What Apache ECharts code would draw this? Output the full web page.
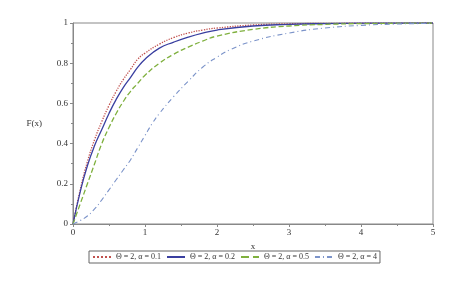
<!DOCTYPE html>
<html><head><meta charset="utf-8">
<script src="https://cdn.jsdelivr.net/npm/echarts@6/dist/echarts.min.js"></script>
<style>html,body{margin:0;padding:0;background:#fff}#c{width:465px;height:281px}</style>
</head><body><div id="c"></div>
<script>
const xs = [0,0.1,0.2,0.3,0.4,0.5,0.6,0.7,0.8,0.9,1.0,1.2,1.4,1.6,1.8,2.0,2.5,3.0,3.5,4.0,5.0];
const fA01 = [0,0.17,0.31,0.42,0.51,0.59,0.66,0.72,0.77,0.82,0.85,0.895,0.928,0.95,0.965,0.975,0.99,0.996,0.998,0.999,1];
const fA02 = [0,0.16,0.29,0.39,0.47,0.55,0.62,0.68,0.73,0.78,0.82,0.875,0.905,0.93,0.95,0.965,0.985,0.993,0.997,0.999,1];
const fA05 = [0,0.10,0.20,0.30,0.40,0.48,0.55,0.61,0.66,0.70,0.74,0.80,0.845,0.88,0.91,0.935,0.968,0.985,0.993,0.997,1];
const xs4 = [0,0.1,0.2,0.3,0.4,0.5,0.6,0.7,0.8,0.9,1.0,1.1,1.2,1.4,1.6,1.8,2.0,2.2,2.5,3.0,3.5,4.0,4.5,5.0];
const fA4 = [0,0.017,0.04,0.075,0.12,0.17,0.22,0.27,0.32,0.38,0.44,0.50,0.55,0.635,0.71,0.78,0.83,0.87,0.91,0.95,0.975,0.988,0.995,0.998];
const names = ['Θ = 2, α = 0.1','Θ = 2, α = 0.2','Θ = 2, α = 0.5','Θ = 2, α = 4'];
const pair = (a,b)=>a.map((v,i)=>[v,b[i]]);
const font = 'Liberation Serif';
const mk = (name, data, color, type, width) => ({
  name, type:'line', data, smooth:true, symbol:'none',
  lineStyle:{color, type, width}, itemStyle:{color}
});
const chart = echarts.init(document.getElementById('c'));
chart.setOption({
  animation:false,
  grid:{left:73,right:32,top:23,bottom:57,show:true,borderColor:'#888',borderWidth:1},
  xAxis:{type:'value',min:0,max:5,interval:1,name:'x',nameLocation:'middle',nameGap:18,
    nameTextStyle:{fontFamily:font,fontSize:9,color:'#333'},
    axisLine:{lineStyle:{color:'#888'}},axisTick:{length:3,lineStyle:{color:'#888'}},
    minorTick:{show:true,splitNumber:2,length:2,lineStyle:{color:'#888'}},
    splitLine:{show:false},axisLabel:{fontFamily:font,fontSize:9,color:'#333',margin:4}},
  yAxis:{type:'value',min:0,max:1,interval:0.2,name:'F(x)',nameLocation:'middle',nameGap:31,nameRotate:0,
    nameTextStyle:{fontFamily:font,fontSize:9,color:'#333'},
    axisLine:{lineStyle:{color:'#888'}},axisTick:{length:3,lineStyle:{color:'#888'}},
    minorTick:{show:true,splitNumber:2,length:2,lineStyle:{color:'#888'}},
    splitLine:{show:false},axisLabel:{fontFamily:font,fontSize:9,color:'#333',margin:5}},
  legend:{left:89,top:251,width:320,itemWidth:18,itemHeight:8,itemGap:5,padding:[2,3],
    borderColor:'#666',borderWidth:1,itemStyle:{opacity:0},
    textStyle:{fontFamily:font,fontSize:8,color:'#333'},data:names},
  series:[
    mk(names[0], pair(xs,fA01), '#c0504d', 'dotted', 1.3),
    mk(names[1], pair(xs,fA02), '#3a3fa0', 'solid', 1.3),
    mk(names[2], pair(xs,fA05), '#7fb03e', 'dashed', 1.3),
    mk(names[3], pair(xs4,fA4), '#7b93c9', [5,3,1,3], 1.1)
  ]
});
</script></body></html>
